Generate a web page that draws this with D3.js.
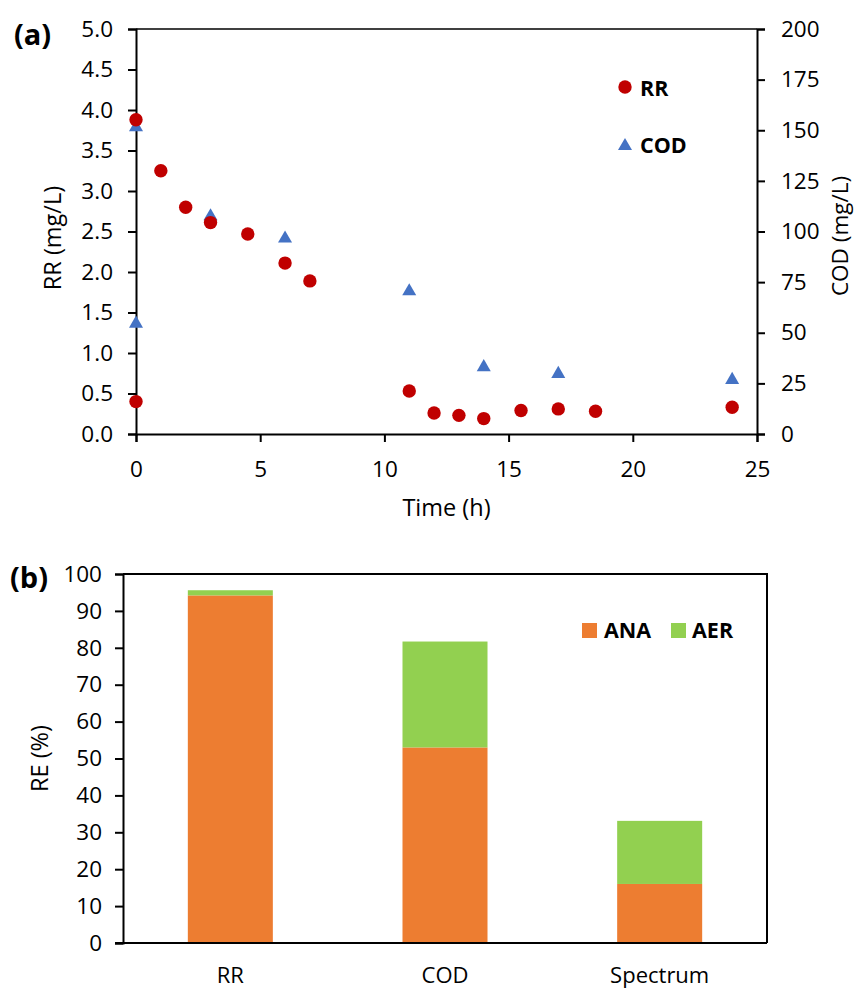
<!DOCTYPE html>
<html><head><meta charset="utf-8">
<script src="https://cdn.jsdelivr.net/npm/d3@7"></script>
<style>
html,body{margin:0;padding:0;background:#fff;}
svg text{font-family:"Open Sans",Lato,sans-serif;fill:#000;}
</style></head>
<body>
<svg id="c" width="857" height="992"></svg>
<script>
// ---- Data: panel (a) ----
const rrTime = [0, 0, 1, 2, 3, 4.5, 6, 7, 11, 12, 13, 14, 15.5, 17, 18.5, 24];
const rrValue = [3.88, 0.40, 3.25, 2.80, 2.61, 2.47, 2.11, 1.89, 0.53, 0.26, 0.23, 0.19, 0.29, 0.31, 0.28, 0.33];
const codTime = [0, 0, 3, 6, 11, 14, 17, 24];
const codValue = [152, 55, 108, 97, 71, 33.5, 30.2, 27.2];
const timeTicks = [0, 5, 10, 15, 20, 25];
const rrTicks = [0, 0.5, 1, 1.5, 2, 2.5, 3, 3.5, 4, 4.5, 5];
const codTicks = [0, 25, 50, 75, 100, 125, 150, 175, 200];
// ---- Data: panel (b) ----
const categories = ["RR", "COD", "Spectrum"];
const anaValues = [94.2, 53.0, 16.0];
const aerValues = [1.4, 28.7, 17.1];
const reTicks = [0, 10, 20, 30, 40, 50, 60, 70, 80, 90, 100];

const svg = d3.select("#c");
const RED = "#C00000", BLUE = "#4472C4", ORANGE = "#ED7D31", GREEN = "#92D050";
const tickFont = "22.5px";

function styleAxis(g){
  g.selectAll(".domain").attr("stroke","#000").attr("stroke-width",2);
  g.selectAll(".tick line").attr("stroke","#000").attr("stroke-width",2);
  g.selectAll(".tick text").style("font-size",tickFont).attr("fill","#000");
}

// ===== Panel (a) =====
const A = {l:136, r:757, t:29, b:434};
const x = d3.scaleLinear().domain([0,25]).range([A.l, A.r]);
const yL = d3.scaleLinear().domain([0,5]).range([A.b, A.t]);
const yR = d3.scaleLinear().domain([0,200]).range([A.b, A.t]);

// top border
svg.append("line").attr("x1",A.l).attr("x2",A.r).attr("y1",A.t).attr("y2",A.t)
  .attr("stroke","#000").attr("stroke-width",1.5);

svg.append("g").attr("transform",`translate(0,${A.b})`)
  .call(d3.axisBottom(x).tickValues(timeTicks).tickFormat(d3.format("d")).tickSizeOuter(0).tickSize(8).tickPadding(19))
  .call(styleAxis);
svg.append("g").attr("transform",`translate(${A.l},0)`)
  .call(d3.axisLeft(yL).tickValues(rrTicks).tickFormat(d3.format(".1f")).tickSizeOuter(0).tickSize(8).tickPadding(15))
  .call(styleAxis);
svg.append("g").attr("transform",`translate(${A.r},0)`)
  .call(d3.axisRight(yR).tickValues(codTicks).tickFormat(d3.format("d")).tickSizeOuter(0).tickSize(8).tickPadding(16))
  .call(styleAxis);

const tri = d3.symbol().type(d3.symbolTriangle).size(85);
svg.append("g").selectAll("path").data(codTime.map((t,i)=>[t,codValue[i]])).join("path")
  .attr("d", tri).attr("fill", BLUE)
  .attr("transform", d=>`translate(${x(d[0])},${yR(d[1])+1})`);
svg.append("g").selectAll("circle").data(rrTime.map((t,i)=>[t,rrValue[i]])).join("circle")
  .attr("cx", d=>x(d[0])).attr("cy", d=>yL(d[1])).attr("r", 6.7).attr("fill", RED);

// legend (a)
const legFont = "21.5px";
svg.append("circle").attr("cx",625).attr("cy",87).attr("r",6.7).attr("fill",RED);
svg.append("text").attr("x",640).attr("y",88).attr("dy","0.36em").style("font-size",legFont).style("font-weight","bold").text("RR");
svg.append("path").attr("d",tri).attr("fill",BLUE).attr("transform","translate(625,146)");
svg.append("text").attr("x",640).attr("y",145).attr("dy","0.36em").style("font-size",legFont).style("font-weight","bold").text("COD");

// axis titles (a)
const titleFont = "23.5px";
svg.append("text").attr("transform",`translate(53,238) rotate(-90)`).attr("text-anchor","middle").attr("dy","0.36em").style("font-size",titleFont).text("RR (mg/L)");
svg.append("text").attr("transform",`translate(840,236) rotate(-90)`).attr("text-anchor","middle").attr("dy","0.36em").style("font-size","22.5px").text("COD (mg/L)");
svg.append("text").attr("x",(A.l+A.r)/2).attr("y",516).attr("text-anchor","middle").style("font-size",titleFont).text("Time (h)");
svg.append("text").attr("x",14).attr("y",35).attr("dy","0.36em").style("font-size","29px").style("font-weight","bold").text("(a)");

// ===== Panel (b) =====
const B = {l:123, r:767, t:574, b:943};
const xb = d3.scaleBand().domain(categories).range([B.l, B.r]).padding(0);
const yb = d3.scaleLinear().domain([0,100]).range([B.b, B.t]);
const barW = xb.bandwidth()*0.396;

// box top & right
svg.append("path").attr("d",`M${B.l},${B.t}H${B.r}V${B.b}`).attr("fill","none").attr("stroke","#000").attr("stroke-width",2);

const stackData = categories.map((c,i)=>({c, ana:anaValues[i], aer:aerValues[i]}));
svg.append("g").selectAll("rect").data(stackData).join("rect")
  .attr("x", d=>xb(d.c)+xb.bandwidth()/2-barW/2).attr("width", barW)
  .attr("y", d=>yb(d.ana)).attr("height", d=>yb(0)-yb(d.ana)).attr("fill", ORANGE);
svg.append("g").selectAll("rect").data(stackData).join("rect")
  .attr("x", d=>xb(d.c)+xb.bandwidth()/2-barW/2).attr("width", barW)
  .attr("y", d=>yb(d.ana+d.aer)).attr("height", d=>yb(d.ana)-yb(d.ana+d.aer)).attr("fill", GREEN);

svg.append("g").attr("transform",`translate(0,${B.b})`)
  .call(d3.axisBottom(xb).tickSize(0).tickPadding(24).tickSizeOuter(0))
  .call(styleAxis)
  .call(g=>g.selectAll(".tick text").style("font-size","22px"))
  .call(g=>g.select(".domain").attr("d",`M${B.l-8},0H${B.r}`));
svg.append("g").attr("transform",`translate(${B.l},0)`)
  .call(d3.axisLeft(yb).tickValues(reTicks).tickFormat(d3.format("d")).tickSizeOuter(0).tickSize(8).tickPadding(13))
  .call(styleAxis);

// legend (b)
svg.append("rect").attr("x",582).attr("y",623).attr("width",15).attr("height",15).attr("fill",ORANGE);
svg.append("text").attr("x",604).attr("y",630).attr("dy","0.36em").style("font-size",legFont).style("font-weight","bold").text("ANA");
svg.append("rect").attr("x",671).attr("y",623).attr("width",15).attr("height",15).attr("fill",GREEN);
svg.append("text").attr("x",692).attr("y",630).attr("dy","0.36em").style("font-size",legFont).style("font-weight","bold").text("AER");

svg.append("text").attr("transform",`translate(40,${(B.t+B.b)/2}) rotate(-90)`).attr("text-anchor","middle").attr("dy","0.36em").style("font-size",titleFont).text("RE (%)");
svg.append("text").attr("x",10).attr("y",578).attr("dy","0.36em").style("font-size","29px").style("font-weight","bold").text("(b)");
</script>
</body></html>
